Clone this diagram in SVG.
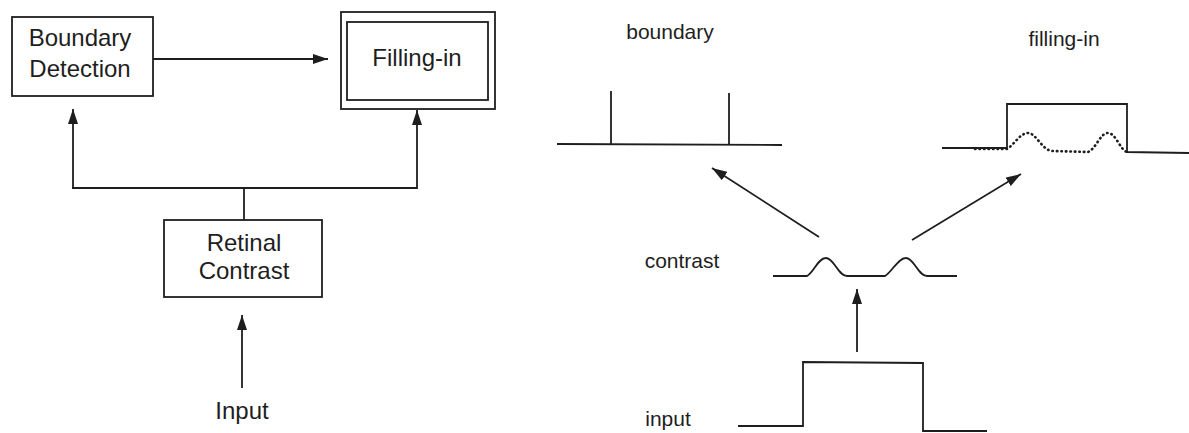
<svg xmlns="http://www.w3.org/2000/svg" width="1189" height="433" viewBox="0 0 1189 433">
<style>
.box{fill:none;stroke:#1e1e1e;stroke-width:1.8}
.ln{fill:none;stroke:#1e1e1e;stroke-width:1.8}
.dot{fill:none;stroke:#1e1e1e;stroke-width:2.6;stroke-dasharray:0.5 4;stroke-linecap:round}
.big{font-family:"Liberation Sans",Arial,sans-serif;font-size:24px;fill:#1e1e1e;text-anchor:middle}
.sm{font-family:"Liberation Sans",Arial,sans-serif;font-size:21px;fill:#1e1e1e;text-anchor:middle}
</style>
<defs>
<marker id="ah" markerUnits="userSpaceOnUse" markerWidth="16" markerHeight="10" refX="15" refY="5" orient="auto">
<path d="M0,0 L15,5 L0,10 Z" fill="#1e1e1e"/>
</marker>
</defs>
<rect width="1189" height="433" fill="#ffffff"/>

<g id="boundary-detection">
<rect class="box" x="12" y="17" width="141" height="79"/>
<text class="big" x="80" y="46">Boundary</text>
<text class="big" x="80" y="77">Detection</text>
</g>

<g id="filling-in">
<rect class="box" x="341" y="12" width="154" height="97"/>
<rect class="box" x="347" y="22" width="141" height="78"/>
<text class="big" x="417" y="66">Filling-in</text>
</g>

<g id="retinal-contrast">
<rect class="box" x="164" y="220" width="158" height="77"/>
<text class="big" x="244" y="251">Retinal</text>
<text class="big" x="244" y="279">Contrast</text>
</g>

<g id="input-label">
<text class="big" x="242" y="419">Input</text>
</g>

<g id="connectors">
<line class="ln" x1="153" y1="59" x2="328" y2="59" marker-end="url(#ah)"/>
<polyline class="ln" points="73,188 73,109" marker-end="url(#ah)"/>
<polyline class="ln" points="72,188 417,188 417,110" marker-end="url(#ah)"/>
<line class="ln" x1="244" y1="188" x2="244" y2="220"/>
<line class="ln" x1="242" y1="388" x2="242" y2="315" marker-end="url(#ah)"/>
<line class="ln" x1="857" y1="352" x2="857" y2="289" marker-end="url(#ah)"/>
<line class="ln" x1="819" y1="237" x2="712" y2="168" marker-end="url(#ah)"/>
<line class="ln" x1="912" y1="240" x2="1021" y2="174" marker-end="url(#ah)"/>
</g>

<g id="boundary-graph">
<text class="sm" x="670" y="39">boundary</text>
<line class="ln" x1="557" y1="144" x2="782" y2="145"/>
<line class="ln" x1="611" y1="91" x2="611" y2="144"/>
<line class="ln" x1="729" y1="93" x2="729" y2="145"/>
</g>

<g id="filling-in-graph">
<text class="sm" x="1064" y="46">filling-in</text>
<polyline class="ln" points="942,148 1007,148 1007,104 1127,104 1127,152 1189,153"/>
<path class="dot" d="M975,149 L1007,149 C1015,144 1020,133 1028,133 C1036,133 1042,150 1052,151 L1088,152 C1096,149 1100,133 1108,133 C1116,133 1120,150 1127,152"/>
</g>

<g id="contrast-graph">
<text class="sm" x="682" y="268">contrast</text>
<path class="ln" d="M773,276 L807,276 C814,272 818,258 826,258 C834,258 838,276 847,276 L885,276 C892,272 898,258 906,258 C914,258 918,276 927,276 L957,276"/>
</g>

<g id="input-graph">
<text class="sm" x="668" y="426">input</text>
<polyline class="ln" points="738,426 803,426 803,362 923,363 923,431 987,431"/>
</g>
</svg>
